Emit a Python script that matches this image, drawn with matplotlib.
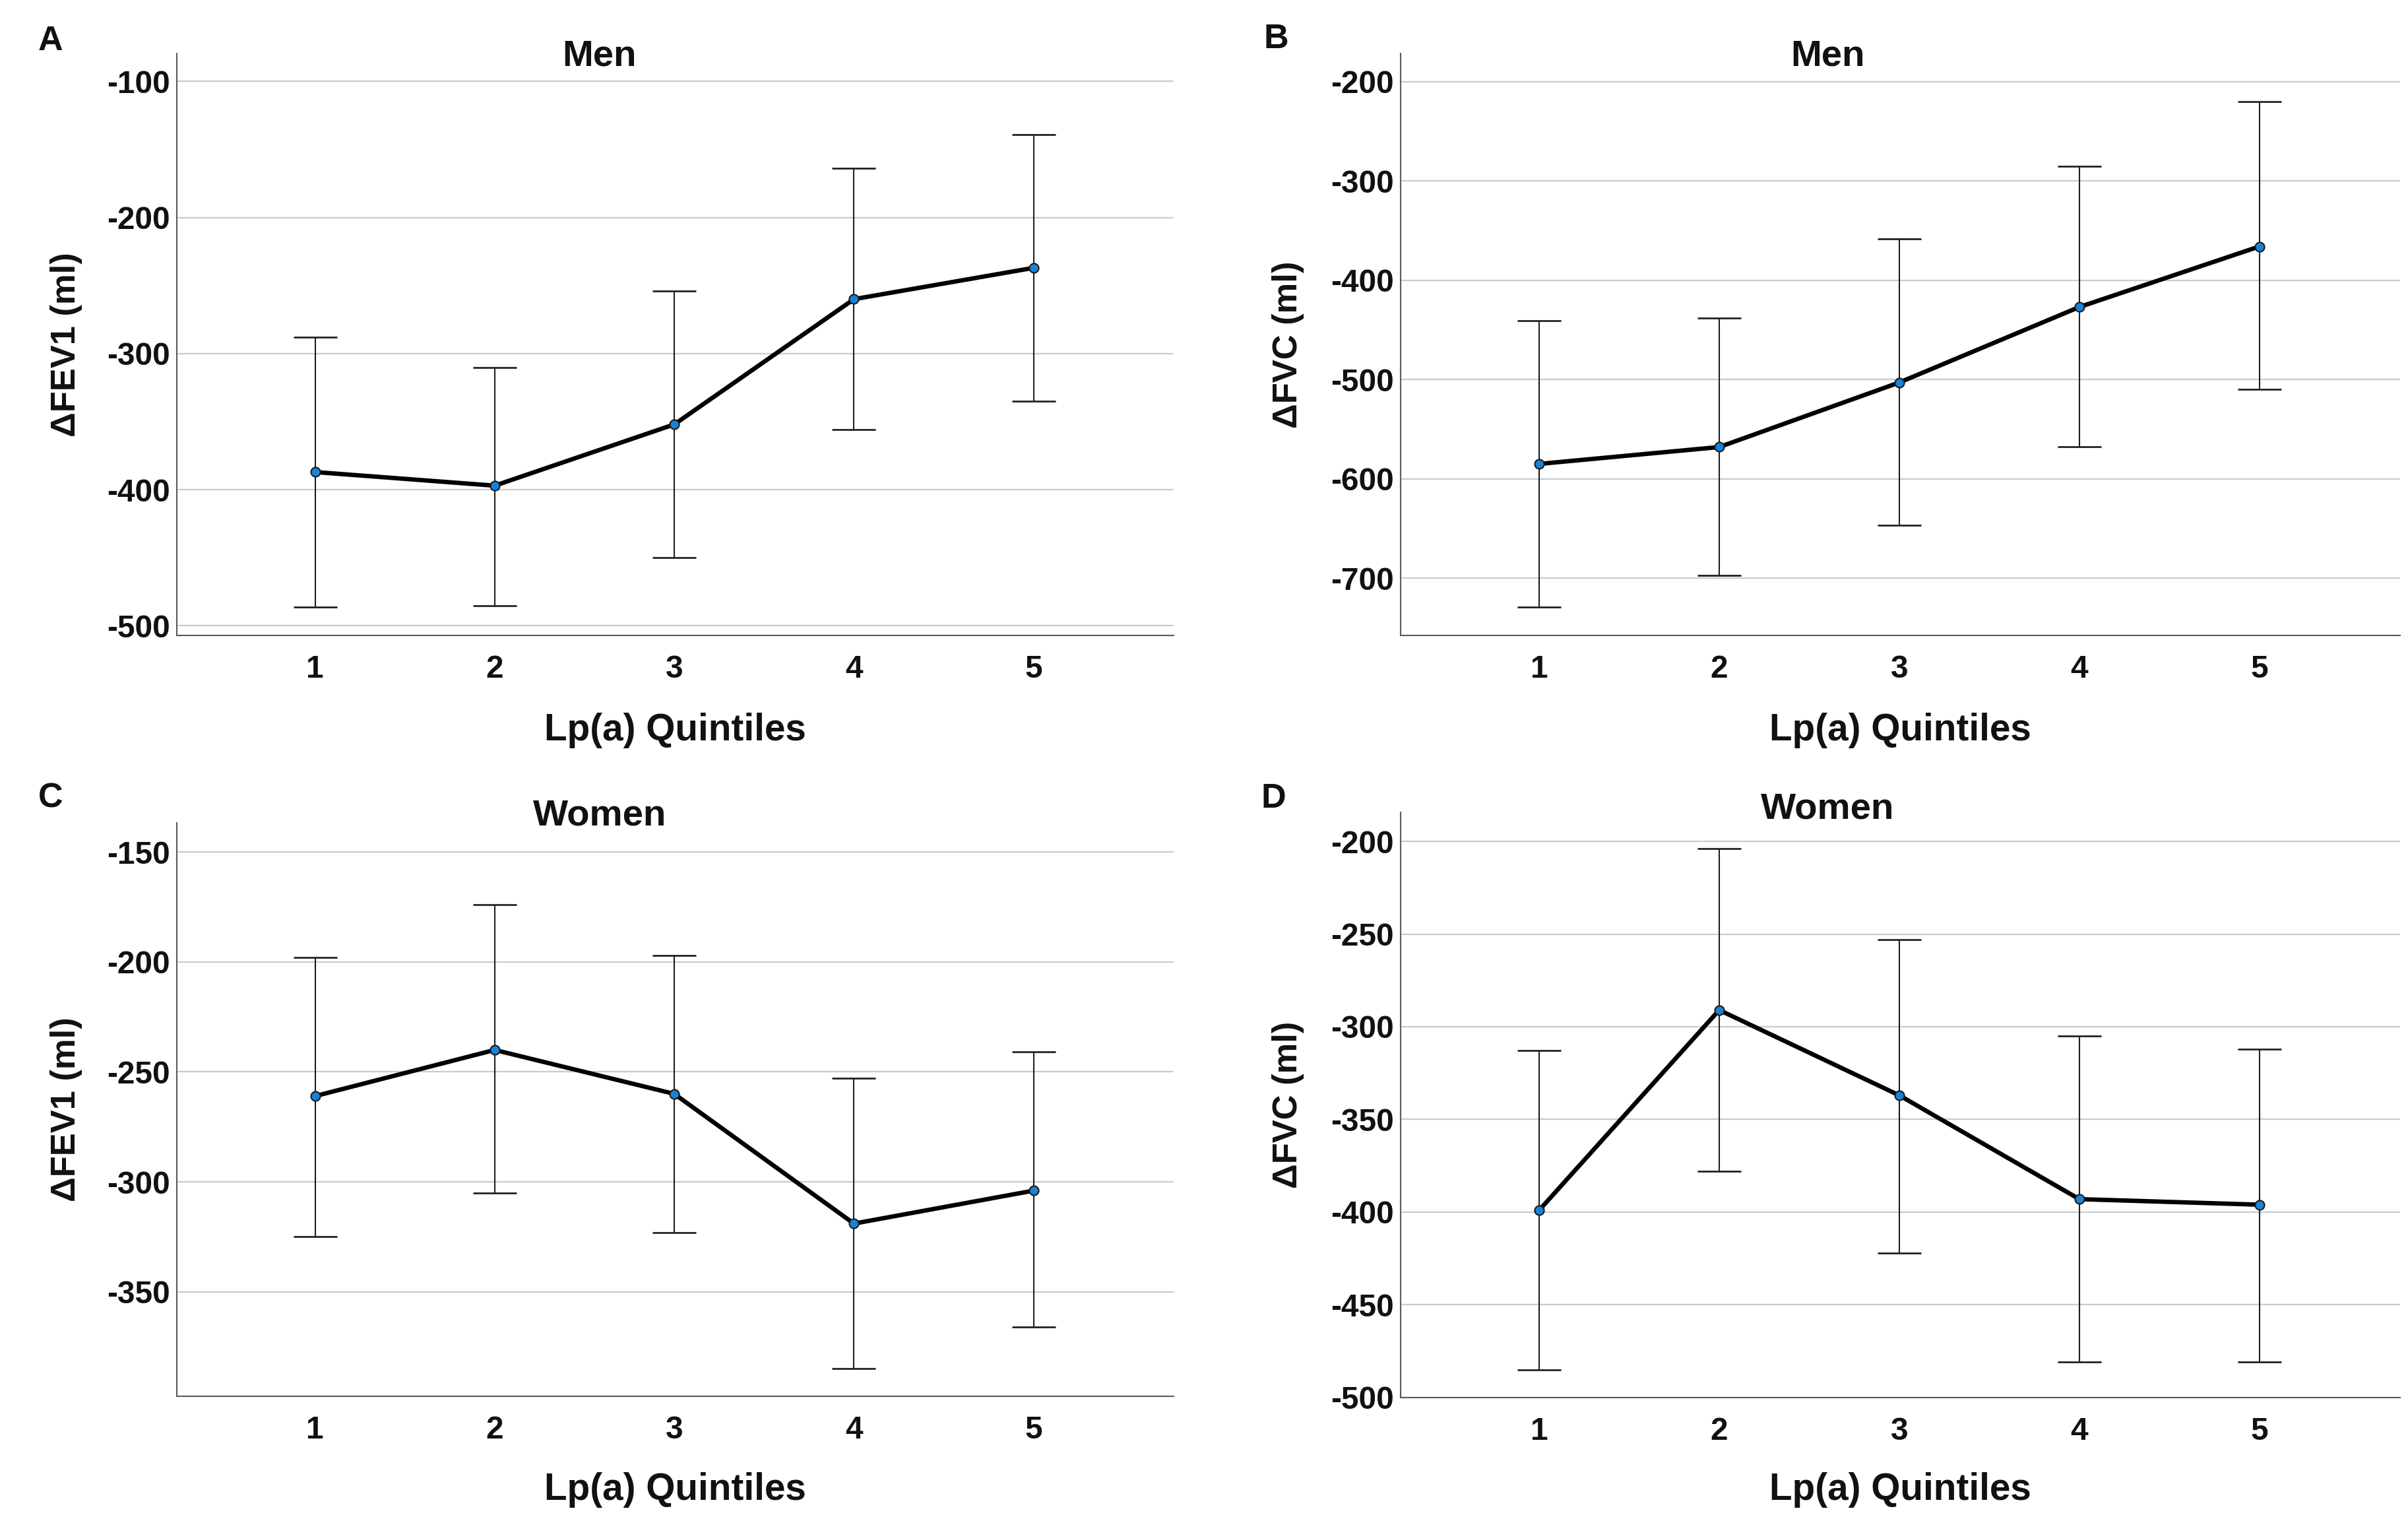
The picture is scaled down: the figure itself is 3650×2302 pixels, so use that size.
import matplotlib
matplotlib.use("Agg")
import matplotlib.pyplot as plt
import numpy as np

plt.rcParams['font.family'] = ['Liberation Sans', 'DejaVu Sans']

quintiles = [1, 2, 3, 4, 5]
xtick_labels = ["1", "2", "3", "4", "5"]

# Panel A: Men, ΔFEV1
a_mean = [-387, -397, -352, -260, -237]
a_upper = [-288, -310, -254, -164, -139]
a_lower = [-486, -485, -450, -356, -335]

# Panel B: Men, ΔFVC
b_mean = [-585, -568, -503, -427, -366]
b_upper = [-441, -438, -358, -285, -220]
b_lower = [-729, -697, -647, -568, -510]

# Panel C: Women, ΔFEV1
c_mean = [-261, -240, -260, -319, -304]
c_upper = [-198, -174, -197, -253, -241]
c_lower = [-325, -305, -323, -385, -366]

# Panel D: Women, ΔFVC
d_mean = [-399, -291, -337, -393, -396]
d_upper = [-313, -204, -253, -305, -312]
d_lower = [-485, -378, -422, -481, -481]

panels = [
    dict(letter="A", title="Men", ylabel="ΔFEV1 (ml)", mean=a_mean, up=a_upper, lo=a_lower,
         yticks=[-500, -400, -300, -200, -100], ylim=(-507, -79.5),
         rect=[0.0734, 0.5817, 0.4140, 0.3831], title_xy=(0.249, 0.963), letter_xy=(0.021, 0.973),
         ylab_x=0.0274, xlab_y=0.519),
    dict(letter="B", title="Men", ylabel="ΔFVC (ml)", mean=b_mean, up=b_upper, lo=b_lower,
         yticks=[-700, -600, -500, -400, -300, -200], ylim=(-757.7, -171.6),
         rect=[0.5816, 0.5817, 0.4150, 0.3831], title_xy=(0.759, 0.963), letter_xy=(0.53, 0.974),
         ylab_x=0.535, xlab_y=0.519),
    dict(letter="C", title="Women", ylabel="ΔFEV1 (ml)", mean=c_mean, up=c_upper, lo=c_lower,
         yticks=[-350, -300, -250, -200, -150], ylim=(-397.4, -136.7),
         rect=[0.0734, 0.081, 0.4140, 0.3773], title_xy=(0.249, 0.463), letter_xy=(0.021, 0.4743),
         ylab_x=0.0274, xlab_y=0.019),
    dict(letter="D", title="Women", ylabel="ΔFVC (ml)", mean=d_mean, up=d_upper, lo=d_lower,
         yticks=[-500, -450, -400, -350, -300, -250, -200], ylim=(-500, -184.2),
         rect=[0.5816, 0.080, 0.4150, 0.3854], title_xy=(0.759, 0.4674), letter_xy=(0.529, 0.474),
         ylab_x=0.535, xlab_y=0.019),
]

fig = plt.figure(figsize=(3650 / 300, 2302 / 300), dpi=300)
fig.patch.set_facecolor("white")

for p in panels:
    ax = fig.add_axes(p["rect"])
    mean = np.array(p["mean"], dtype=float)
    up = np.array(p["up"], dtype=float)
    lo = np.array(p["lo"], dtype=float)
    ax.set_axisbelow(True)
    ax.yaxis.grid(True, color="#cccccc", linewidth=0.55)
    ax.xaxis.grid(False)
    ax.errorbar(quintiles, mean, yerr=[mean - lo, up - mean], fmt="none",
                ecolor="#1e1e1e", elinewidth=0.5, capsize=8, capthick=0.65, zorder=2)
    ax.plot(quintiles, mean, color="black", linewidth=1.6, zorder=3)
    ax.plot(quintiles, mean, linestyle="none", marker="o", markersize=3.4,
            markerfacecolor="#1a82d4", markeredgecolor="#1b1b1b", markeredgewidth=0.5, zorder=4)
    ax.set_xlim(0.23, 5.78)
    ax.set_ylim(*p["ylim"])
    ax.set_xticks(quintiles)
    ax.set_xticklabels(xtick_labels)
    ax.set_yticks(p["yticks"])
    ax.set_yticklabels([str(v) for v in p["yticks"]])
    for s in ["top", "right"]:
        ax.spines[s].set_visible(False)
    for s in ["left", "bottom"]:
        ax.spines[s].set_color("#5a5a5a")
        ax.spines[s].set_linewidth(0.5)
    ax.tick_params(axis="both", length=0, labelsize=11.5, colors="#111111")
    ax.tick_params(axis="x", pad=7)
    ax.tick_params(axis="y", pad=2.5)
    for lab in ax.get_xticklabels() + ax.get_yticklabels():
        lab.set_fontweight("bold")
    r = p["rect"]
    fig.text(p["title_xy"][0], p["title_xy"][1], p["title"], ha="center", va="center",
             fontsize=13.5, fontweight="bold", color="#111111")
    fig.text(p["letter_xy"][0], p["letter_xy"][1], p["letter"], ha="center", va="center",
             fontsize=12.5, fontweight="bold", color="#111111")
    fig.text(p["ylab_x"], r[1] + r[3] / 2, p["ylabel"], rotation=90, ha="center", va="center",
             fontsize=12.6, fontweight="bold", color="#111111")
    fig.text(r[0] + r[2] / 2, p["xlab_y"], "Lp(a) Quintiles", ha="center", va="center",
             fontsize=13.6, fontweight="bold", color="#111111")

fig.savefig("out.png", dpi=300, facecolor="white")
